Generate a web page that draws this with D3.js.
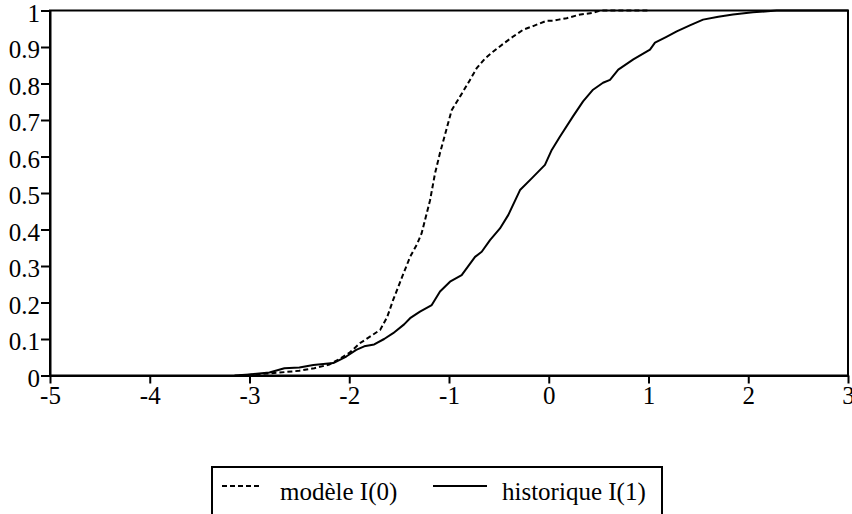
<!DOCTYPE html>
<html><head><meta charset="utf-8">
<script src="https://cdn.jsdelivr.net/npm/d3@7"></script>
<style>
html,body{margin:0;padding:0;background:#fff;}
svg{display:block;}
text{font-family:"Liberation Serif","Times New Roman",serif;fill:#000;}
</style></head>
<body>
<svg id="c" width="852" height="514"></svg>
<script>
const xTicks = [-5,-4,-3,-2,-1,0,1,2,3];
const xTickLabels = ["-5","-4","-3","-2","-1","0","1","2","3"];
const yTicks = [0,0.1,0.2,0.3,0.4,0.5,0.6,0.7,0.8,0.9,1];
const yTickLabels = ["0","0.1","0.2","0.3","0.4","0.5","0.6","0.7","0.8","0.9","1"];
const seriesNames = ["modèle I(0)", "historique I(1)"];

// modèle I(0) — dashed empirical CDF
const modeleX = [-3.1,-2.9,-2.7,-2.5,-2.35,-2.2,-2.1,-2.0,-1.89,-1.8,-1.69,-1.62,-1.56,-1.47,-1.39,-1.32,-1.274,-1.19,-1.14,-1.09,-1.03,-0.973,-0.89,-0.80,-0.722,-0.64,-0.559,-0.45,-0.35,-0.258,-0.15,-0.021,0.05,0.10,0.18,0.30,0.444,0.52,0.70,1.0];
const modeleY = [0,0.004,0.008,0.013,0.02,0.03,0.045,0.062,0.089,0.105,0.125,0.16,0.207,0.27,0.325,0.36,0.39,0.48,0.554,0.61,0.67,0.727,0.764,0.805,0.842,0.868,0.887,0.91,0.93,0.947,0.958,0.972,0.972,0.975,0.979,0.988,0.994,1.0,1.0,1.0];

// historique I(1) — solid empirical CDF
const histX = [-3.15,-3.0,-2.8,-2.65,-2.5,-2.36,-2.16,-2.03,-1.93,-1.85,-1.75,-1.65,-1.56,-1.45,-1.39,-1.291,-1.173,-1.09,-0.99,-0.873,-0.739,-0.672,-0.589,-0.489,-0.405,-0.288,-0.171,-0.038,0.03,0.113,0.243,0.344,0.444,0.544,0.614,0.697,0.848,1.015,1.065,1.18,1.283,1.42,1.547,1.7,1.847,2.047,2.285,2.5,3.0];
const histY = [0,0.003,0.008,0.02,0.022,0.029,0.034,0.052,0.07,0.08,0.085,0.1,0.116,0.14,0.157,0.175,0.193,0.23,0.257,0.275,0.325,0.339,0.371,0.403,0.44,0.508,0.54,0.577,0.618,0.655,0.71,0.751,0.783,0.802,0.81,0.838,0.866,0.893,0.912,0.928,0.943,0.96,0.975,0.983,0.989,0.995,1.0,1.0,1.0];

const svg = d3.select("#c");
const FONT = 25;
const x = d3.scaleLinear().domain([-5,3]).range([50,848]);
const y = d3.scaleLinear().domain([0,1]).range([375.5,10.5]);

// frame (top & right)
svg.append("rect")
  .attr("x", x(-5)).attr("y", y(1))
  .attr("width", x(3)-x(-5)).attr("height", y(0)-y(1))
  .attr("fill","none").attr("stroke","#000").attr("stroke-width",2);

// curves
const line = d3.line().x(d=>x(d[0])).y(d=>y(d[1])).curve(d3.curveLinear);
const modele = modeleX.map((v,i)=>[v,modeleY[i]]);
const hist = histX.map((v,i)=>[v,histY[i]]);
svg.append("path").datum(hist).attr("d",line)
  .attr("fill","none").attr("stroke","#000").attr("stroke-width",2).attr("stroke-linejoin","round");
svg.append("path").datum(modele).attr("d",line)
  .attr("fill","none").attr("stroke","#000").attr("stroke-width",2).attr("stroke-dasharray","5,3");

// axes
const xAxis = d3.axisBottom(x).tickValues(xTicks).tickFormat((d,i)=>xTickLabels[i]).tickSize(8).tickSizeOuter(0).tickPadding(3);
const gx = svg.append("g").attr("transform",`translate(0,${y(0)})`).call(xAxis);
const yAxis = d3.axisLeft(y).tickValues(yTicks).tickFormat((d,i)=>yTickLabels[i]).tickSize(9).tickSizeOuter(0).tickPadding(1);
const gy = svg.append("g").attr("transform",`translate(${x(-5)},0)`).call(yAxis);
[gx,gy].forEach(g=>{
  g.selectAll(".domain").attr("stroke","#000").attr("stroke-width",2);
  g.selectAll(".tick line").attr("stroke","#000").attr("stroke-width",2);
  g.selectAll("text").style("font-size",FONT+"px").style("font-family",'"Liberation Serif","Times New Roman",serif').attr("fill","#000");
});
gy.selectAll("text").attr("dy","0.42em");
gx.selectAll("text").attr("dy","0.68em");

// legend
const lg = svg.append("g");
lg.append("path")
  .attr("d","M212,520 L212,467 L662,467 L662,520")
  .attr("fill","none").attr("stroke","#000").attr("stroke-width",2);
const legendItems = [
  {name: seriesNames[0], dash:"5,3", x0:222, x1:262, tx:280},
  {name: seriesNames[1], dash:null, x0:433, x1:487, tx:502}
];
legendItems.forEach(it=>{
  lg.append("line").attr("x1",it.x0).attr("x2",it.x1).attr("y1",486).attr("y2",486)
    .attr("stroke","#000").attr("stroke-width",2).attr("stroke-dasharray",it.dash);
  lg.append("text").attr("x",it.tx).attr("y",500).style("font-size",FONT+"px").text(it.name);
});
</script>
</body></html>
